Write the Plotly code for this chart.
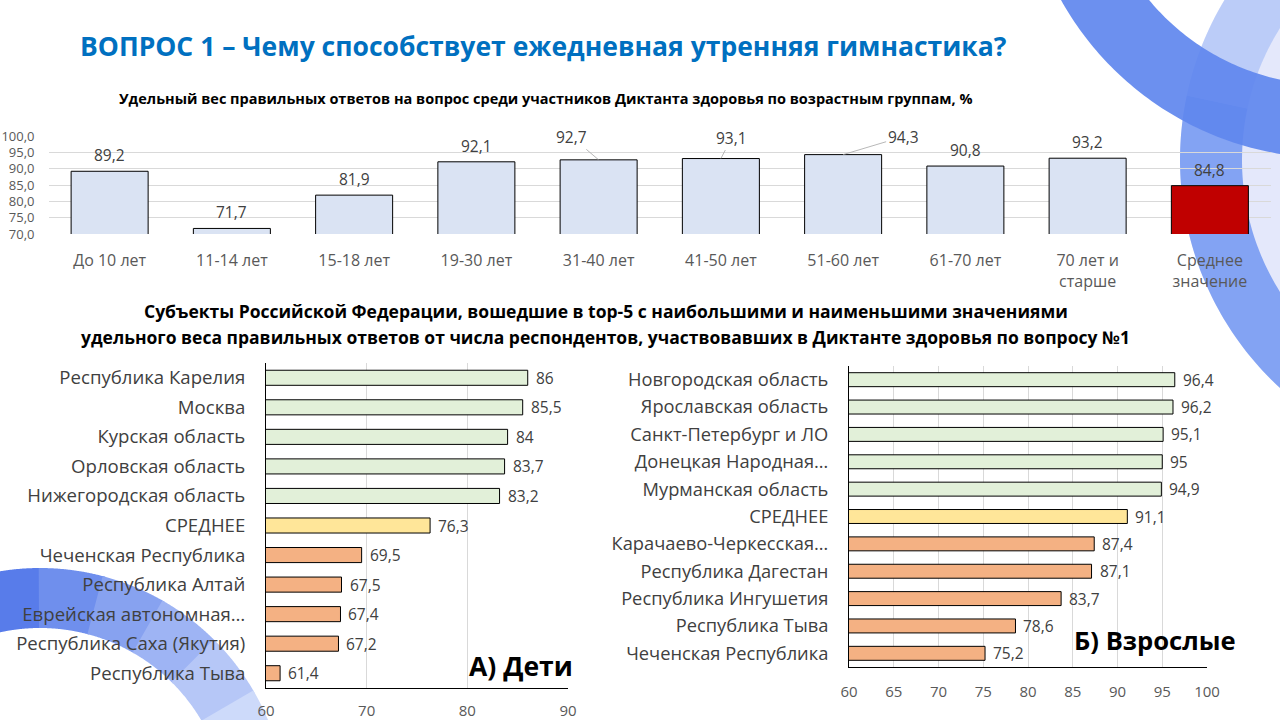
import numpy as np
import plotly.graph_objects as go

# --- данные ---
age_groups = ["До 10 лет", "11-14 лет", "15-18 лет", "19-30 лет", "31-40 лет",
              "41-50 лет", "51-60 лет", "61-70 лет", "70 лет и<br>старше", "Среднее<br>значение"]
age_values = [89.2, 71.7, 81.9, 92.1, 92.7, 93.1, 94.3, 90.8, 93.2, 84.8]

kids_regions = ["Республика Карелия", "Москва", "Курская область", "Орловская область",
                "Нижегородская область", "СРЕДНЕЕ", "Чеченская Республика", "Республика Алтай",
                "Еврейская автономная…", "Республика Саха (Якутия)", "Республика Тыва"]
kids_values = [86, 85.5, 84, 83.7, 83.2, 76.3, 69.5, 67.5, 67.4, 67.2, 61.4]

adult_regions = ["Новгородская область", "Ярославская область", "Санкт-Петербург и ЛО",
                 "Донецкая Народная…", "Мурманская область", "СРЕДНЕЕ",
                 "Карачаево-Черкесская…", "Республика Дагестан", "Республика Ингушетия",
                 "Республика Тыва", "Чеченская Республика"]
adult_values = [96.4, 96.2, 95.1, 95, 94.9, 91.1, 87.4, 87.1, 83.7, 78.6, 75.2]

W, H = 1280, 720
FONT = "Open Sans, Noto Sans, sans-serif"
GRAY = "#595959"
DARK = "#404040"


def fmt(v):
    return f"{v:g}".replace(".", ",")


def group_colors(n):
    # 5 лучших, среднее, 5 худших
    return ["#E2F0D9"] * 5 + ["#FFE699"] + ["#F4B183"] * (n - 6)


def px(x, y):
    return x / W, 1 - y / H


def dom_x(a, b):
    return [a / W, b / W]


def dom_y(top, bottom):
    return [1 - bottom / H, 1 - top / H]


fig = go.Figure()

top_colors = ["#DAE3F3"] * (len(age_groups) - 1) + ["#C00000"]
fig.add_trace(go.Bar(x=age_groups, y=age_values, marker_color=top_colors,
                     marker_line=dict(color="black", width=1), width=0.63,
                     xaxis="x", yaxis="y", hoverinfo="skip"))

fig.add_trace(go.Bar(x=kids_values, y=kids_regions, orientation="h",
                     marker_color=group_colors(len(kids_values)),
                     marker_line=dict(color="black", width=1), width=0.51,
                     xaxis="x2", yaxis="y2", hoverinfo="skip"))

fig.add_trace(go.Bar(x=adult_values, y=adult_regions, orientation="h",
                     marker_color=group_colors(len(adult_values)),
                     marker_line=dict(color="black", width=1), width=0.51,
                     xaxis="x3", yaxis="y3", hoverinfo="skip"))

ann = []
# подписи верхней диаграммы (три с выносками)
leaders = {"31-40 лет": (-27, -23), "41-50 лет": (11, -21), "51-60 лет": (60, -18)}
for cat, val in zip(age_groups, age_values):
    if cat in leaders:
        ax, ay = leaders[cat]
        ann.append(dict(x=cat, y=val, xref="x", yref="y", text=fmt(val), showarrow=True,
                        arrowhead=0, arrowwidth=0.8, arrowcolor="#A6A6A6", ax=ax, ay=ay,
                        font=dict(size=15.5, color=DARK)))
    else:
        ann.append(dict(x=cat, y=val, xref="x", yref="y", text=fmt(val), showarrow=False,
                        yanchor="bottom", yshift=3, font=dict(size=15.5, color=DARK)))

for names, vals, xr, yr in [(kids_regions, kids_values, "x2", "y2"),
                            (adult_regions, adult_values, "x3", "y3")]:
    for n, v in zip(names, vals):
        ann.append(dict(x=v, y=n, xref=xr, yref=yr, text=fmt(v), showarrow=False,
                        xanchor="left", xshift=6, font=dict(size=15.5, color=DARK)))


def txt(x, y, s, size, color="black", anchor="center"):
    X, Y = px(x, y)
    ann.append(dict(x=X, y=Y, xref="paper", yref="paper", text=s, showarrow=False,
                    xanchor=anchor, yanchor="middle", font=dict(size=size, color=color)))


txt(78, 46, "<b>ВОПРОС 1 – Чему способствует ежедневная утренняя гимнастика?</b>", 26.5,
    "#0070C0", "left")
txt(545, 99, "<b>Удельный вес правильных ответов на вопрос среди участников Диктанта здоровья "
    "по возрастным группам, %</b>", 14.5)
txt(606, 311, "<b>Субъекты Российской Федерации, вошедшие в top-5 с наибольшими и наименьшими "
    "значениями</b>", 17.5)
txt(605, 337, "<b>удельного веса правильных ответов от числа респондентов, участвовавших в "
    "Диктанте здоровья по вопросу №1</b>", 17.5)
txt(575, 666, "<b>А) Дети</b>", 26.5, anchor="right")
txt(1238, 640, "<b>Б) Взрослые</b>", 25.6, anchor="right")


# --- декоративные дуги фона ---
def ring(cx, cy, r1, r2, a0, a1, n=80):
    t = np.radians(np.linspace(a0, a1, n))
    pts = [(cx + r2 * np.cos(a), cy + r2 * np.sin(a)) for a in t]
    pts += [(cx + r1 * np.cos(a), cy + r1 * np.sin(a)) for a in t[::-1]]
    p = [px(x, y) for x, y in pts]
    return "M " + " L ".join(f"{a:.5f},{b:.5f}" for a, b in p) + " Z"


shapes = []


def add_ring(color, *args):
    shapes.append(dict(type="path", xref="paper", yref="paper", layer="below",
                       path=ring(*args), fillcolor=color, line=dict(width=0)))


add_ring("rgba(205,214,248,0.55)", 1490, 160, 0, 310, 120, 260)
add_ring("rgba(120,155,242,0.9)", 1490, 160, 248, 310, 120, 192)
add_ring("rgba(170,192,246,0.7)", 1490, 160, 248, 310, 192, 230)
add_ring("rgba(95,135,238,0.92)", 1330, -150, 235, 308, 95, 160)

steps = np.linspace(255, 345, 7)
c0, c1 = np.array([88, 124, 234]), np.array([205, 218, 250])
for i in range(6):
    c = c0 + (c1 - c0) * i / 5
    add_ring(f"rgb({c[0]:.0f},{c[1]:.0f},{c[2]:.0f})", 40, 815, 187, 247,
             steps[i] - 0.3, steps[i + 1] + 0.3)

axis_font = dict(family=FONT, size=15, color=GRAY)
fig.update_layout(
    width=W, height=H, margin=dict(l=0, r=0, t=0, b=0),
    paper_bgcolor="white", plot_bgcolor="rgba(0,0,0,0)",
    font=dict(family=FONT, color=DARK), separators=", ",
    showlegend=False, annotations=ann, shapes=shapes,
    xaxis=dict(domain=dom_x(48.5, 1271), anchor="y", automargin=False,
               tickfont=dict(family=FONT, size=16, color=GRAY),
               showgrid=False, showline=False, ticks="", ticklabelstandoff=15),
    yaxis=dict(domain=dom_y(136, 234), anchor="x", range=[70, 100], dtick=5,
               automargin=False,
               tickformat=".1f", tickfont=dict(family=FONT, size=13, color=GRAY),
               gridcolor="#D9D9D9", gridwidth=1, zeroline=False, showline=False,
               ticklabelstandoff=13),
    xaxis2=dict(domain=dom_x(266, 568), anchor="y2", range=[60, 90], dtick=10,
                automargin=False,
                tickfont=axis_font, gridcolor="#D9D9D9", showline=True, linecolor="black",
                linewidth=1, zeroline=False, ticks="", ticklabelstandoff=9),
    yaxis2=dict(domain=dom_y(363, 688), anchor="x2", autorange="reversed", automargin=False,
                tickfont=dict(family=FONT, size=18.6, color=DARK), showline=True,
                linecolor="black", linewidth=1, ticks="", ticklabelstandoff=16),
    xaxis3=dict(domain=dom_x(849, 1207), anchor="y3", range=[60, 100], dtick=5,
                automargin=False,
                tickfont=axis_font, gridcolor="#D9D9D9", showline=True, linecolor="black",
                linewidth=1, zeroline=False, ticks="", ticklabelstandoff=11),
    yaxis3=dict(domain=dom_y(366, 667), anchor="x3", autorange="reversed", automargin=False,
                tickfont=dict(family=FONT, size=18.3, color=DARK), showline=True,
                linecolor="black", linewidth=1, ticks="", ticklabelstandoff=16),
)

fig.write_html("out.html", config={"displayModeBar": False},
               post_script="document.body.style.margin='0';document.body.style.overflow='hidden';")
